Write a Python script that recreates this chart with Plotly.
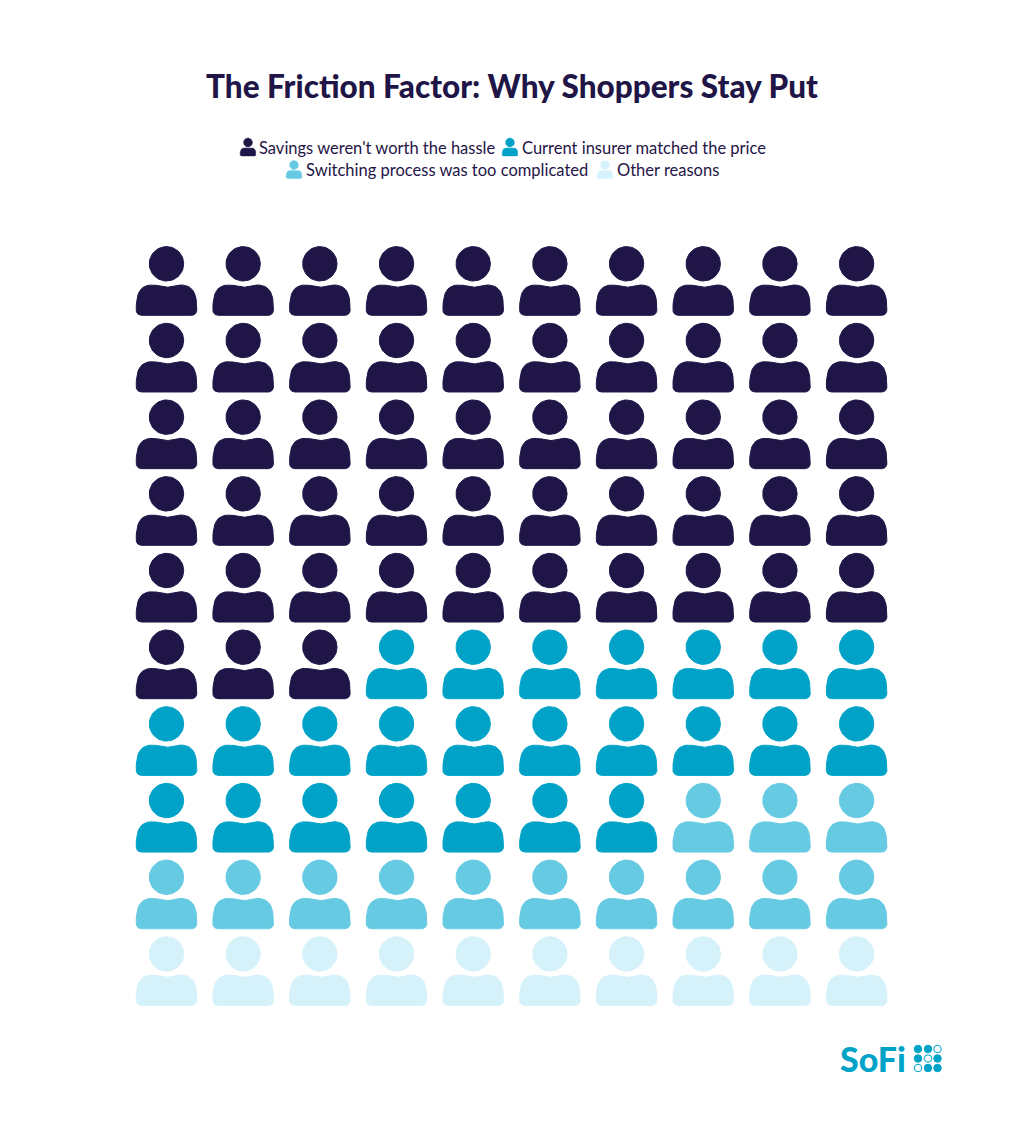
import numpy as np
import plotly.graph_objects as go

# chart data
title = "The Friction Factor: Why Shoppers Stay Put"
categories = ["Savings weren't worth the hassle", "Current insurer matched the price",
              "Switching process was too complicated", "Other reasons"]
counts = [53, 24, 13, 10]
colors = ["#1F1547", "#00A3C7", "#66CAE3", "#D5F2FB"]
n_cols = 10

# page layout, in pixels of the 1024x1147 canvas
x0, y0, step = 166.5, 263.8, 76.68
legend_rows = [142.5, 165.0]
legend_text_rows = [147.5, 169.5]
legend_icon_x = [248, 510, 294, 605]
legend_text_x = [257, 520, 304, 615]
legend_row_of = [0, 0, 1, 1]

logo_dots_x = [918, 928, 937.5]
logo_dots_y = [1049, 1058.5, 1068]
logo_hollow = [(2, 0), (1, 1), (0, 2)]


def bez(p0, p1, p2, p3, n=14):
    t = np.linspace(0, 1, n)[:, None]
    p0, p1, p2, p3 = map(np.array, (p0, p1, p2, p3))
    return (1-t)**3*p0 + 3*(1-t)**2*t*p1 + 3*(1-t)*t**2*p2 + t**3*p3


def person(cx, cy, s=1.0):
    # head + shoulders, relative to the centre of the head
    a = np.linspace(0, 2*np.pi, 60)
    hx = 17.2*np.cos(a)
    hy = 17.2*np.sin(a)
    body = np.vstack([
        bez((-25, 51.5), (-28, 51.5), (-30.3, 49.5), (-30.3, 46)),
        bez((-30.3, 46), (-30.3, 30), (-27, 21.2), (-14, 21.2)),
        bez((-14, 21.2), (-8, 21.2), (-5, 23.4), (0, 23.4)),
        bez((0, 23.4), (5, 23.4), (8, 21.2), (14, 21.2)),
        bez((14, 21.2), (27, 21.2), (30.3, 30), (30.3, 46)),
        bez((30.3, 46), (30.3, 49.5), (28, 51.5), (25, 51.5)),
        [(-25, 51.5)],
    ])
    xs = list(cx + s*hx) + [None] + list(cx + s*body[:, 0]) + [None]
    ys = list(cy + s*hy) + [None] + list(cy + s*body[:, 1]) + [None]
    return xs, ys


fig = go.Figure()

# the 10x10 grid, filled row by row from the top
pos = 0
for name, n, col in zip(categories, counts, colors):
    xs, ys = [], []
    for i in range(pos, pos + n):
        px, py = person(x0 + (i % n_cols)*step, y0 + (i // n_cols)*step)
        xs += px
        ys += py
    pos += n
    fig.add_trace(go.Scatter(x=xs, y=ys, mode="lines", fill="toself", fillcolor=col,
                             line=dict(color=col, width=1), name=name,
                             hoverinfo="name", showlegend=False))

# legend drawn by hand, plotly markers have no person symbol
for i, name in enumerate(categories):
    r = legend_row_of[i]
    px, py = person(legend_icon_x[i], legend_rows[r], 0.26)
    fig.add_trace(go.Scatter(x=px, y=py, mode="lines", fill="toself", fillcolor=colors[i],
                             line=dict(color=colors[i], width=0.5), hoverinfo="skip",
                             showlegend=False))
    fig.add_annotation(x=legend_text_x[i], y=legend_text_rows[r], text=name, showarrow=False,
                       xanchor="left", yanchor="middle",
                       font=dict(family="Lato", size=16.5, color="#1F1547"))

# logo
dx, dy, sym = [], [], []
for row, yy in enumerate(logo_dots_y):
    for c, xx in enumerate(logo_dots_x):
        dx.append(xx)
        dy.append(yy)
        sym.append("circle-open" if (c, row) in logo_hollow else "circle")
fig.add_trace(go.Scatter(x=dx, y=dy, mode="markers", hoverinfo="skip", showlegend=False,
                         marker=dict(size=7.5, color="#00A3C7", symbol=sym,
                                     line=dict(color="#00A3C7", width=1))))
fig.add_annotation(x=873, y=1058, text="SoFi", showarrow=False,
                   font=dict(family="Lato", size=34, color="#00A3C7", weight=900))

fig.update_layout(
    width=1024, height=1147,
    margin=dict(l=0, r=0, t=0, b=0),
    paper_bgcolor="white", plot_bgcolor="white",
    title=dict(text=title, x=0.5, xanchor="center", y=1 - 87/1147, yanchor="middle",
               font=dict(family="Lato", size=31.5, color="#1F1547", weight=900)),
    xaxis=dict(range=[0, 1024], visible=False, fixedrange=True),
    yaxis=dict(range=[1147, 0], visible=False, fixedrange=True),
)

# the page default 8px body margin would push everything off the reference
fig.write_html("out.html", config=dict(displayModeBar=False),
               post_script="document.body.style.margin='0'; document.body.style.fontVariantLigatures='none';")
